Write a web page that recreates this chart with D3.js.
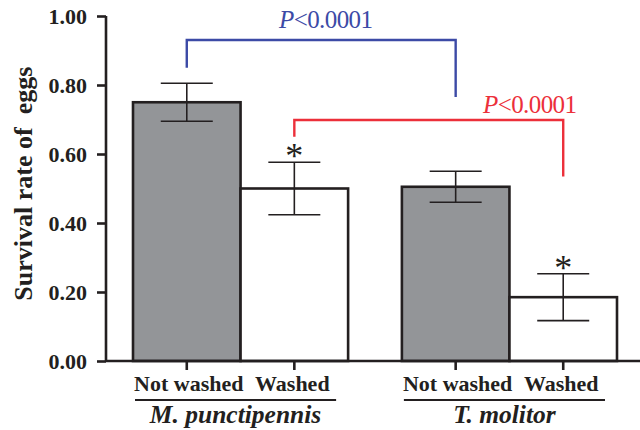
<!DOCTYPE html>
<html><head><meta charset="utf-8">
<script src="https://cdn.jsdelivr.net/npm/d3@7"></script>
<style>
html,body{margin:0;padding:0;background:#fff;}
svg{display:block;}
text{font-family:"Liberation Serif","Times New Roman",serif;}
</style></head>
<body>
<svg id="c" width="640" height="430"></svg>
<script>
const groups = ["M. punctipennis", "T. molitor"];
const treatments = ["Not washed", "Washed"];
const means = [[0.75, 0.50], [0.505, 0.185]];
const errs = [[0.055, 0.076], [0.045, 0.068]];
const stars = [[false, true], [false, true]];
const yTicks = [0, 0.2, 0.4, 0.6, 0.8, 1.0];
const yLabel = "Survival rate of\u00a0 eggs";
const pLabels = ["P", "<0.0001"];

const FF = "Liberation Serif";
const svg = d3.select("#c");
const y = d3.scaleLinear().domain([0, 1]).range([361, 16]);
const x0 = d3.scaleBand().domain(groups).range([133, 617]).paddingInner(0.2).paddingOuter(0);
const x1 = d3.scaleBand().domain(treatments).range([0, x0.bandwidth()]).padding(0);
const cx = (g, t) => x0(groups[g]) + x1(treatments[t]) + x1.bandwidth() / 2;

const data = [];
groups.forEach((g, gi) => treatments.forEach((t, ti) => data.push({gi, ti, v: means[gi][ti], e: errs[gi][ti], s: stars[gi][ti]})));

// bars
svg.selectAll("rect.bar").data(data).enter().append("rect")
  .attr("x", d => x0(groups[d.gi]) + x1(treatments[d.ti]))
  .attr("y", d => y(d.v))
  .attr("width", x1.bandwidth())
  .attr("height", d => y(0) - y(d.v))
  .attr("fill", d => d.ti === 0 ? "#939598" : "#ffffff")
  .attr("stroke", "#231f20").attr("stroke-width", 2.6);

// error bars
const capW = 26;
const eb = svg.selectAll("g.eb").data(data).enter().append("g").attr("stroke", "#231f20").attr("stroke-width", 1.6);
eb.append("line").attr("x1", d => cx(d.gi, d.ti)).attr("x2", d => cx(d.gi, d.ti))
  .attr("y1", d => y(d.v + d.e)).attr("y2", d => y(d.v - d.e));
eb.append("line").attr("x1", d => cx(d.gi, d.ti) - capW).attr("x2", d => cx(d.gi, d.ti) + capW)
  .attr("y1", d => y(d.v + d.e)).attr("y2", d => y(d.v + d.e));
eb.append("line").attr("x1", d => cx(d.gi, d.ti) - capW).attr("x2", d => cx(d.gi, d.ti) + capW)
  .attr("y1", d => y(d.v - d.e)).attr("y2", d => y(d.v - d.e));

// stars
svg.selectAll("text.star").data(data.filter(d => d.s)).enter().append("text")
  .attr("x", d => cx(d.gi, d.ti)).attr("y", d => y(d.v + d.e) + 6)
  .attr("text-anchor", "middle").attr("font-family", FF).attr("font-size", 36).attr("fill", "#231f20")
  .text("*");

// y axis
const yAxis = d3.axisLeft(y).tickValues(yTicks).tickFormat(d3.format(".2f")).tickSize(9).tickPadding(10);
const ya = svg.append("g").attr("transform", "translate(106,0)").call(yAxis);
ya.select(".domain").attr("stroke", "#231f20").attr("stroke-width", 2.6).attr("d", "M0," + y(1) + "V" + y(0));
ya.selectAll(".tick line").attr("stroke", "#231f20").attr("stroke-width", 2.6);
ya.selectAll(".tick text").attr("font-family", FF)
  .attr("font-size", 22).attr("font-weight", "bold").attr("fill", "#231f20").attr("dy", "0.34em");

// x axis line
svg.append("line").attr("x1", 106).attr("x2", 640).attr("y1", y(0)).attr("y2", y(0))
  .attr("stroke", "#231f20").attr("stroke-width", 2.6);
// x ticks
svg.selectAll("line.xt").data(data).enter().append("line")
  .attr("x1", d => cx(d.gi, d.ti)).attr("x2", d => cx(d.gi, d.ti))
  .attr("y1", y(0)).attr("y2", y(0) + 9).attr("stroke", "#231f20").attr("stroke-width", 2.6);
// treatment labels
svg.selectAll("text.tl").data(data).enter().append("text")
  .attr("x", d => cx(d.gi, d.ti) + (d.ti === 0 ? 2 : -2)).attr("y", 391)
  .attr("text-anchor", "middle").attr("font-family", FF).attr("font-size", 22).attr("font-weight", "bold").attr("fill", "#231f20")
  .text(d => treatments[d.ti]);
// group underline + labels
groups.forEach((g, gi) => {
  svg.append("line").attr("x1", x0(g) + 2).attr("x2", x0(g) + x0.bandwidth() - 12)
    .attr("y1", 400).attr("y2", 400).attr("stroke", "#231f20").attr("stroke-width", 2);
  svg.append("text").attr("x", x0(g) + x0.bandwidth() / 2 - 5).attr("y", 423)
    .attr("text-anchor", "middle").attr("font-family", FF).attr("font-size", 25.5).attr("font-weight", "bold").attr("font-style", "italic")
    .attr("fill", "#231f20").text(g);
});

// y label
svg.append("text").attr("transform", "translate(32," + y(0.514) + ") rotate(-90)")
  .attr("text-anchor", "middle").attr("font-family", FF).attr("font-size", 26).attr("font-weight", "bold").attr("fill", "#231f20")
  .text(yLabel);

// brackets
function bracket(x1p, x2p, yTop, yL, yR, color, tx, ty) {
  svg.append("path").attr("d", `M${x1p},${yL}V${yTop}H${x2p}V${yR}`)
    .attr("fill", "none").attr("stroke", color).attr("stroke-width", 2.4);
  const t = svg.append("text").attr("x", tx).attr("y", ty).attr("text-anchor", "middle")
    .attr("font-family", FF).attr("font-size", 25).attr("fill", color)
    .attr("textLength", 94).attr("lengthAdjust", "spacing");
  t.append("tspan").attr("font-style", "italic").text(pLabels[0]);
  t.append("tspan").text(pLabels[1]);
}
bracket(cx(0, 0), cx(1, 0), 40, y(0.85), y(0.765), "#3c4aa6", 326, 28);
bracket(cx(0, 1), cx(1, 1), 120, y(0.65), y(0.535), "#ec2f3a", 530, 113);
</script>
</body></html>
